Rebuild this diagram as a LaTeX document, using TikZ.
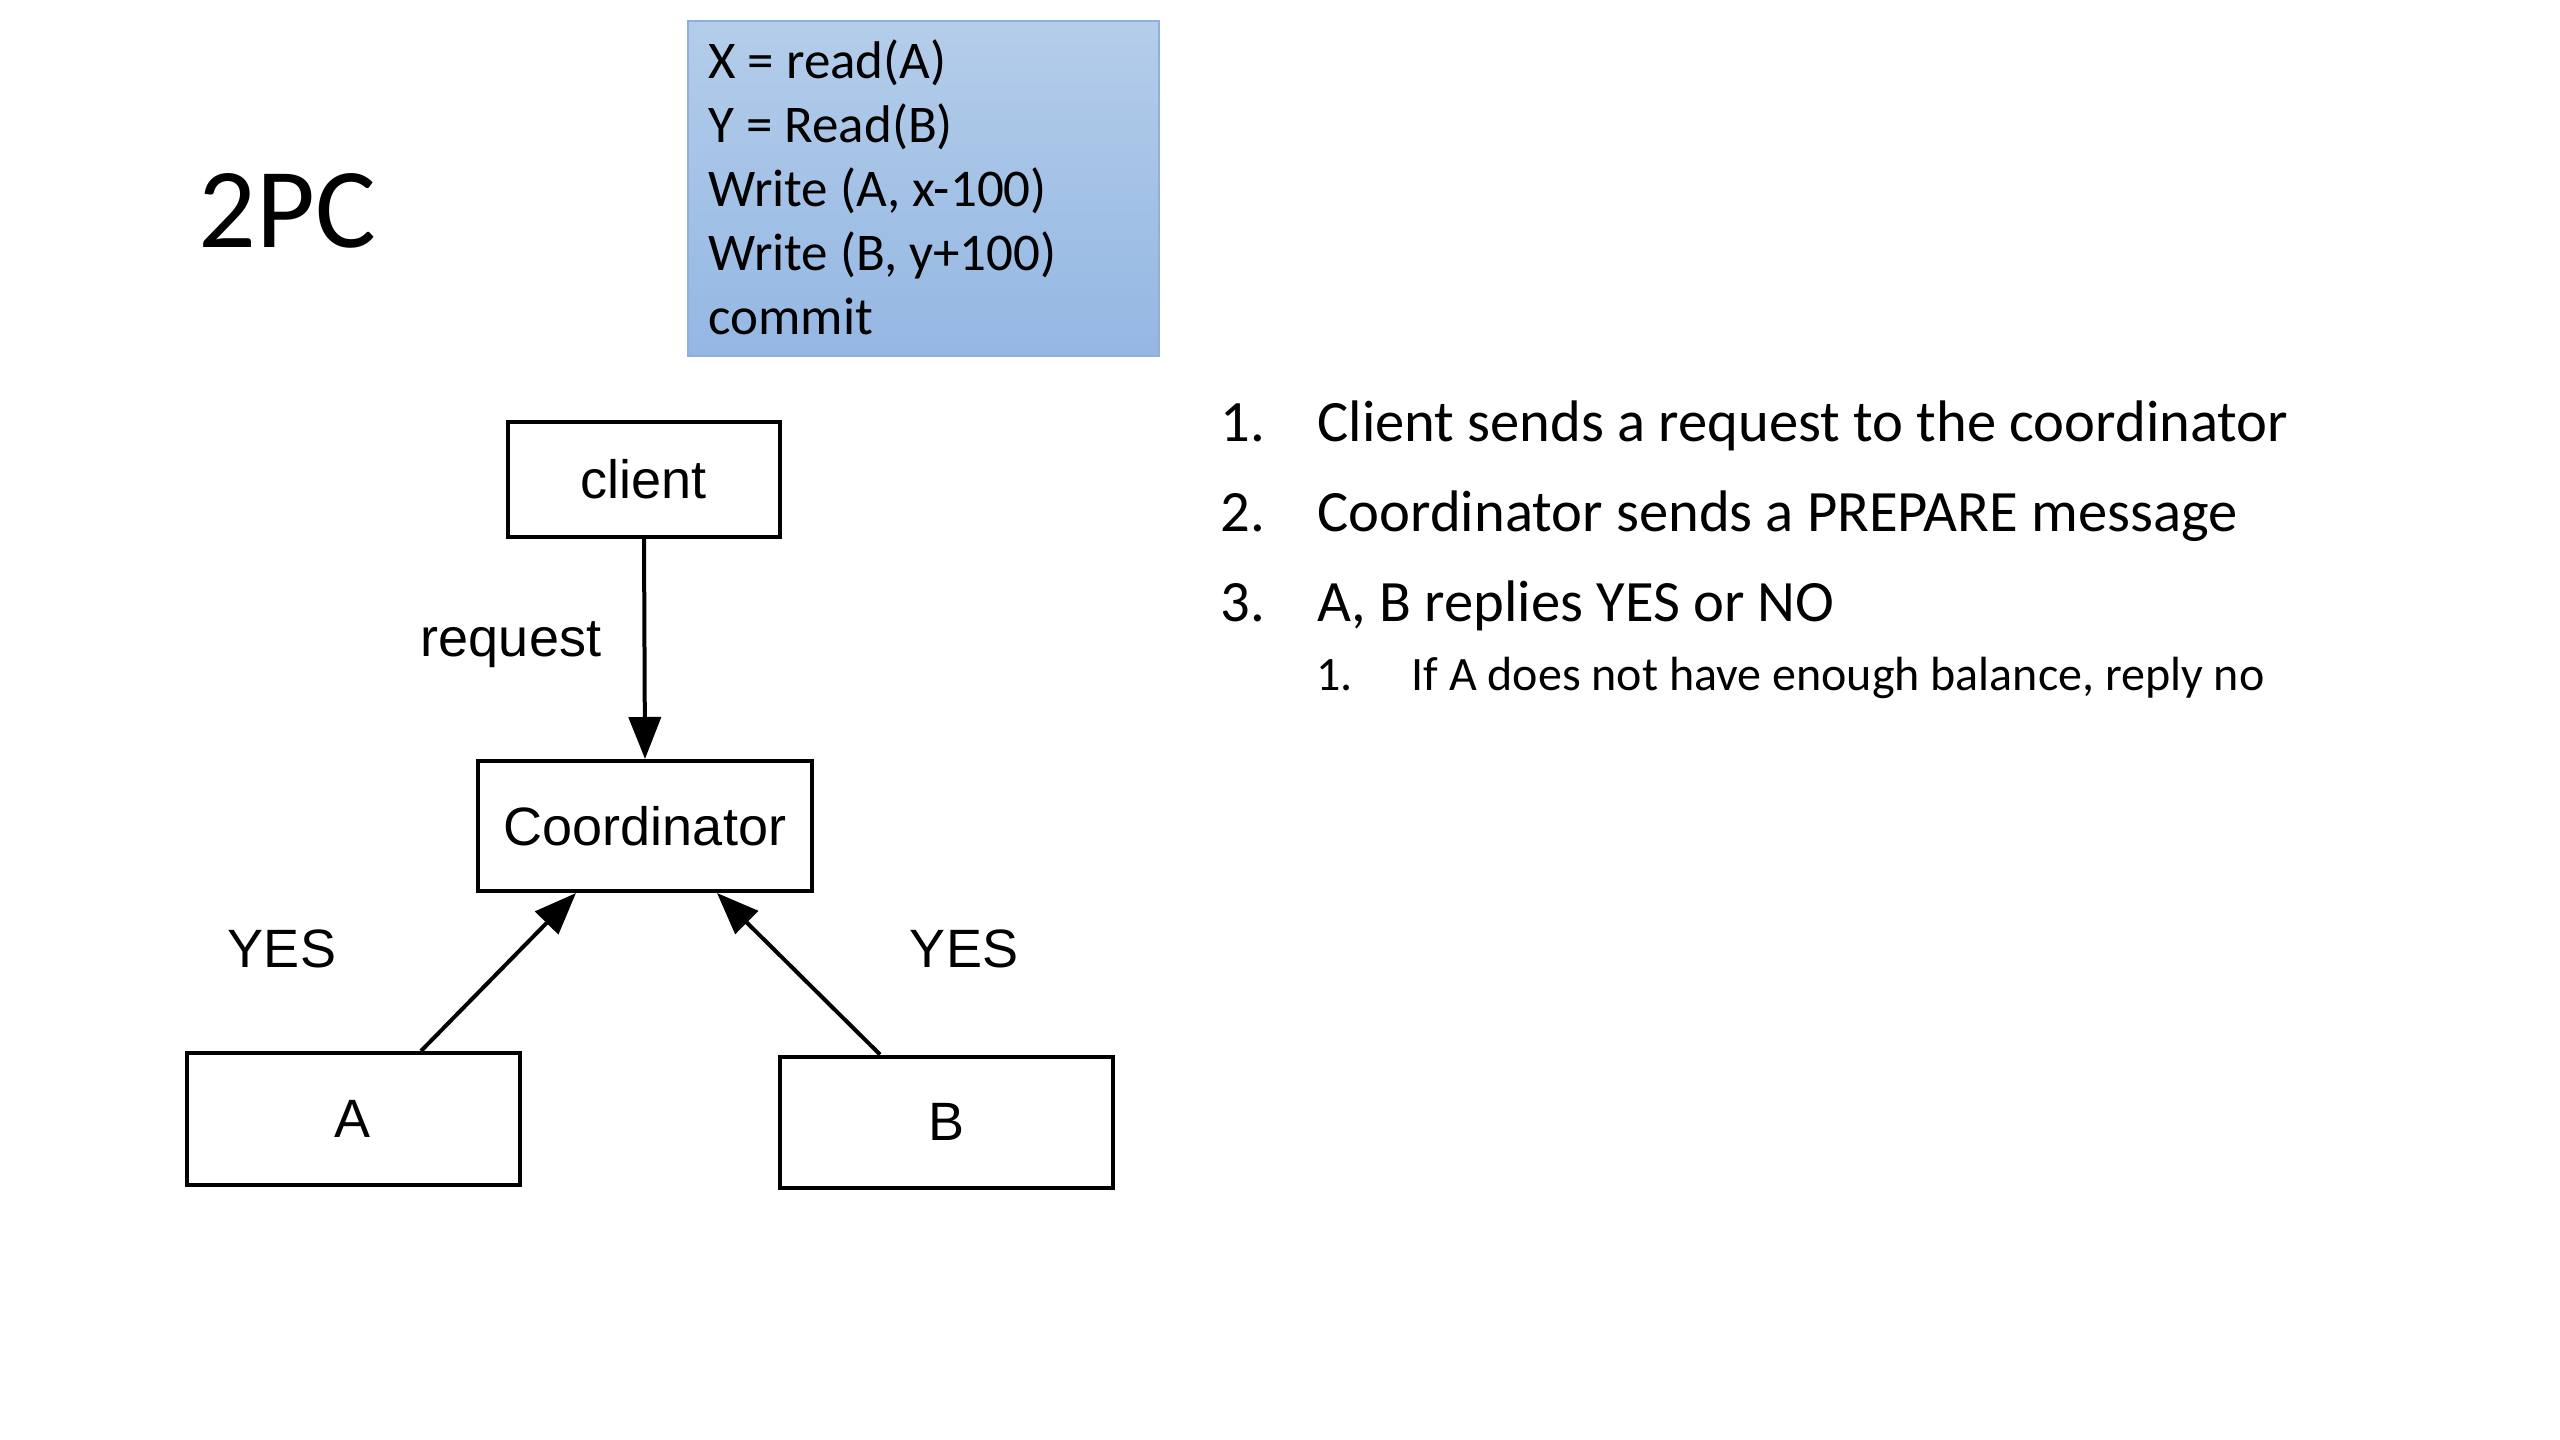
\documentclass[tikz,border=0pt]{standalone}
\usepackage{fontspec}
\setmainfont{Carlito}
\newfontfamily\arialf{Liberation Sans}
\usetikzlibrary{arrows.meta}
\definecolor{codetop}{HTML}{B4CDEA}
\definecolor{codebot}{HTML}{94B7E2}
\definecolor{codeline}{HTML}{8DB0DD}
\begin{document}
\begin{tikzpicture}[x=0.5pt,y=-0.5pt,
  diagbox/.style={draw=black, line width=2pt, fill=white, inner sep=0pt,
    font=\arialf\fontsize{27}{32}\selectfont},
  diaglbl/.style={anchor=base, inner sep=0pt, font=\arialf\fontsize{27}{32}\selectfont},
  flow/.style={line width=2pt, -{Triangle[length=21pt,width=16pt]}},
  codeln/.style={anchor=base west, inner sep=0pt, font=\fontsize{26.5}{32}\selectfont},
  mainln/.style={anchor=base west, inner sep=0pt, font=\fontsize{29.3}{35}\selectfont},
  subln/.style={anchor=base west, inner sep=0pt, font=\fontsize{24}{29}\selectfont}]
\useasboundingbox[fill=white] (0,0) rectangle (2560,1440);

% title
\node[anchor=base west, inner sep=0pt, font=\fontsize{57}{68}\selectfont] (title) at (198,247) {2PC};

% code box
\node[draw=codeline, line width=1pt, top color=codetop, bottom color=codebot,
  minimum width=235.5pt, minimum height=167.5pt, inner sep=0pt] (code) at (923.5,188.5) {};
\node[codeln] (c1) at (708,78) {X = read(A)};
\node[codeln] (c2) at (708,142) {Y = Read(B)};
\node[codeln] (c3) at (708,206) {Write (A, x-100)};
\node[codeln] (c4) at (708,270) {Write (B, y+100)};
\node[codeln] (c5) at (708,334) {commit};

% diagram
\node[diagbox, minimum width=136pt, minimum height=57.5pt] (client) at (644,479) {client};
\node[diagbox, minimum width=167pt, minimum height=65pt] (coord) at (645,826) {Coordinator};
\node[diagbox, minimum width=166.5pt, minimum height=66pt] (A) at (353,1119) {A};
\node[diagbox, minimum width=166.5pt, minimum height=65.5pt] (B) at (946,1122) {B};

\draw[flow] (client.south) -- (coord.north);
\draw[flow] ([xshift=34pt]A.north) -- ([xshift=-34.5pt]coord.south);
\draw[flow] ([xshift=-33pt]B.north) -- ([xshift=36pt]coord.south);

\node[diaglbl] (lreq) at (511,656) {request};
\node[diaglbl] (lyesa) at (282,967) {YES};
\node[diaglbl] (lyesb) at (964,967) {YES};

% list
\node[mainln] (n1) at (1220,441) {1.};
\node[mainln] (t1) at (1317,441) {Client sends a request to the coordinator};
\node[mainln] (n2) at (1220,531) {2.};
\node[mainln] (t2) at (1317,531) {Coordinator sends a PREPARE message};
\node[mainln] (n3) at (1220,621) {3.};
\node[mainln] (t3) at (1317,621) {A, B replies YES or NO};
\node[subln] (s1) at (1316,690) {1.};
\node[subln] (st1) at (1411,690) {If A does not have enough balance, reply no};
\end{tikzpicture}
\end{document}
